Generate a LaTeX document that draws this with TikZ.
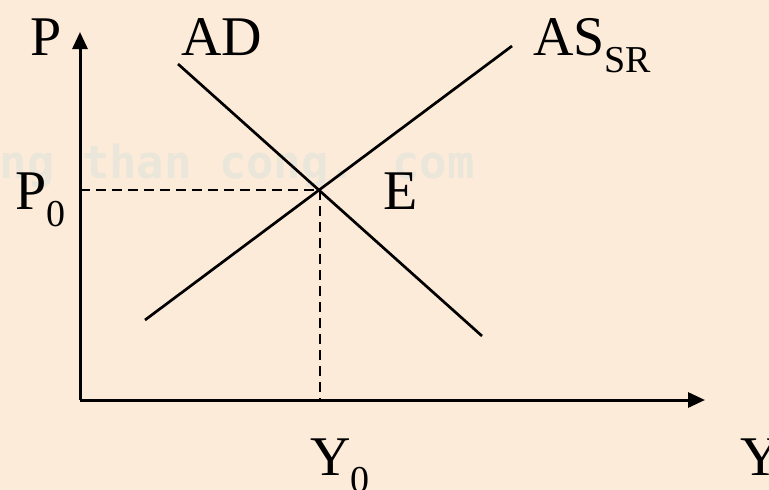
\documentclass[tikz,border=0pt]{standalone}
\usepackage{fontspec}
\setmainfont{Liberation Serif}
\newfontfamily\wmfont{DejaVu Sans Mono}
\usetikzlibrary{arrows.meta}
\definecolor{bgpeach}{HTML}{FDEBD9}
\definecolor{wmgray}{HTML}{EAE6DA}
\tikzset{
  axis/.style={line width=3pt, -{Triangle[length=17pt,width=15pt]}},
  curve/.style={line width=2.7pt},
  guide/.style={line width=2.3pt, dash pattern=on 10pt off 6pt},
  lbl/.style={inner sep=0pt, anchor=base west, font=\fontsize{56}{60}\selectfont},
}
\newcommand{\subtxt}[1]{\raisebox{-17pt}{\fontsize{38}{40}\selectfont #1}}
\begin{document}
\begin{tikzpicture}[x=1pt,y=-1pt]
\fill[bgpeach] (0,0) rectangle (769,490);
\useasboundingbox (0,0) rectangle (769,490);
% watermark
\node[inner sep=0pt, anchor=base west, text=wmgray, font=\wmfont\bfseries\fontsize{45.5}{48}\selectfont] (wm) at (-55,178) {uong than cong. com};
% coordinates
\coordinate (O) at (80,400);
\coordinate (ytop) at (80,32);
\coordinate (xend) at (705,400);
\coordinate (ad1) at (178,64);
\coordinate (ad2) at (482,336);
\coordinate (as1) at (145,320);
\coordinate (as2) at (512,46);
\coordinate (E) at (320,190);
\coordinate (P0pt) at (80,190);
\coordinate (Y0pt) at (320,400);
% axes
\draw[axis] (O) -- (ytop);
\draw[axis] (O) -- (xend);
% curves
\draw[curve] (ad1) -- (ad2);
\draw[curve] (as1) -- (as2);
% guides
\draw[guide] (P0pt) -- (E);
\draw[guide] (E) -- (Y0pt);
% labels
\node[lbl] (Plbl) at (30,55) {P};
\node[lbl] (ADlbl) at (181,55) {AD};
\node[lbl] (ASlbl) at (533,55) {AS\subtxt{SR}};
\node[lbl] (P0lbl) at (15,209) {P\subtxt{0}};
\node[lbl] (Elbl) at (383,209) {E};
\node[lbl] (Y0lbl) at (310,475) {Y\subtxt{0}};
\node[lbl] (Ylbl) at (740,475) {Y};
\end{tikzpicture}
\end{document}
